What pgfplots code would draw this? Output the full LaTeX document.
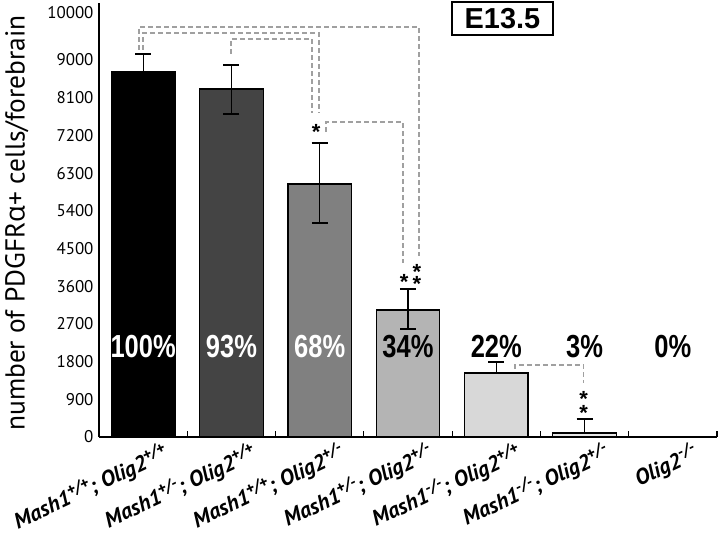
\documentclass[border=0pt]{standalone}
\usepackage{fontspec}
\setmainfont{PT Sans}
\newfontfamily\greekfont{Open Sans}
\newfontfamily\arialfont{Liberation Sans}
\usepackage{graphicx}
\usepackage{pgfplots}
\pgfplotsset{compat=1.18}

\definecolor{sig}{HTML}{A0A0A0}
\definecolor{barB}{HTML}{444444}
\definecolor{barC}{HTML}{808080}
\definecolor{barD}{HTML}{B4B4B4}
\definecolor{barE}{HTML}{D8D8D8}
\definecolor{barF}{HTML}{E6E6E6}

\newcommand{\pct}[1]{\scalebox{0.8}[1]{\arialfont\bfseries\fontsize{32}{34}\selectfont #1}}
\newcommand{\st}{{\arialfont\bfseries\fontsize{22}{22}\selectfont *}}
\newcommand{\gt}[1]{\raisebox{0.36em}{\fontsize{16.5}{16.5}\selectfont #1}}

\begin{document}
\begin{tikzpicture}
\begin{axis}[
    scale only axis,
    width=618bp, height=434bp,
    xmin=-0.5, xmax=6.5,
    ymin=0, ymax=10360,
    axis lines=left,
    axis line style={-, line width=1.3bp},
    ybar, bar width=0.72, bar shift=0pt,
    xtick={0,1,2,3,4,5,6},
    xticklabels={
        Mash1\gt{+/+}; Olig2\gt{+/+},
        Mash1\gt{+/-}; Olig2\gt{+/+},
        Mash1\gt{+/+}; Olig2\gt{+/-},
        Mash1\gt{+/-}; Olig2\gt{+/-},
        Mash1\gt{-/-}; Olig2\gt{+/+},
        Mash1\gt{-/-}; Olig2\gt{+/-},
        Olig2\gt{-/-}},
    minor xtick={0.5,1.5,2.5,3.5,4.5,5.5,6.5},
    major tick length=0pt, minor tick length=6bp, tick align=inside,
    minor tick style={black, line width=1.2bp},
    ytick={0,900,1800,2700,3600,4500,5400,6300,7200,8100,9000,10120},
    yticklabels={0,900,1800,2700,3600,4500,5400,6300,7200,8100,9000,10000},
    yticklabel style={font=\fontsize{17}{18}\selectfont, xshift=-2bp},
    xticklabel style={font=\fontsize{22}{23}\selectfont\bfseries\itshape,
        rotate=25, anchor=north east, xshift=16bp, yshift=-10bp, inner sep=1bp},
    ylabel={number of PDGFR{\greekfont α}+ cells/forebrain},
    ylabel style={font=\fontsize{27.5}{30}\selectfont,
        at={(axis description cs:-0.133,0.493)}, anchor=center},
    error bars/y dir=both, error bars/y explicit,
    error bars/error bar style={black, line width=1.2bp},
    error bars/error mark options={rotate=90, mark size=8bp, line width=1.2bp, black},
    clip=false,
]
\coordinate (O) at (rel axis cs:0,0);

\addplot[fill=black, draw=black, line width=1.2bp]
    coordinates {(0,8714) += (0,429) -= (0,0)};
\addplot[fill=barB, draw=black, line width=1.2bp]
    coordinates {(1,8307) += (0,573) -= (0,597)};
\addplot[fill=barC, draw=black, line width=1.2bp]
    coordinates {(2,6040) += (0,978) -= (0,932)};
\addplot[fill=barD, draw=black, line width=1.2bp]
    coordinates {(3,3032) += (0,501) -= (0,454)};
\addplot[fill=barE, draw=black, line width=1.2bp]
    coordinates {(4,1528) += (0,262) -= (0,0)};
\addplot[fill=barF, draw=black, line width=1.2bp]
    coordinates {(5,95) += (0,335) -= (0,0)};

% percentages
\node[white] at (axis cs:0,2150) {\pct{100\%}};
\node[white] at (axis cs:1,2150) {\pct{93\%}};
\node[white] at (axis cs:2,2150) {\pct{68\%}};
\node at (axis cs:3,2150) {\pct{34\%}};
\node at (axis cs:4,2150) {\pct{22\%}};
\node at (axis cs:5,2150) {\pct{3\%}};
\node at (axis cs:6,2150) {\pct{0\%}};

% significance brackets
\begin{scope}[sig, line width=1.5bp, dash pattern=on 5bp off 3bp]
\draw (axis cs:-0.045,9238) |- (axis cs:3.126,9787) -- (axis cs:3.126,4320);
\draw (axis cs:0,9238) |- (axis cs:1.993,9643) -- (axis cs:1.993,7734);
\draw (axis cs:0.997,9142) |- (axis cs:1.914,9500) -- (axis cs:1.914,7734);
\draw (axis cs:2.072,7280) |- (axis cs:2.944,7519) -- (axis cs:2.944,4150);
\draw (axis cs:4.21,1623) |- (axis cs:4.99,1719) -- (axis cs:4.99,1289);
\end{scope}

\node[yshift=-6bp] at (axis cs:1.96,7424) {\st};
\node[yshift=-6bp] at (axis cs:2.956,3843) {\st};
\node[yshift=-6bp] at (axis cs:3.10,4082) {\st};
\node[yshift=-6bp] at (axis cs:3.10,3795) {\st};
\node[yshift=-6bp] at (axis cs:4.99,1050) {\st};
\node[yshift=-6bp] at (axis cs:4.99,716) {\st};

% stage box
\node[draw=black, line width=2bp, fill=white, inner xsep=13bp, inner ysep=6bp,
      font=\arialfont\bfseries\fontsize{29}{30}\selectfont]
    at (axis cs:4.07,9990) {E13.5};
\end{axis}
\pgfresetboundingbox
\path (O) ++(-99bp,-96bp) rectangle ++(720bp,533bp);
\end{tikzpicture}
\end{document}
